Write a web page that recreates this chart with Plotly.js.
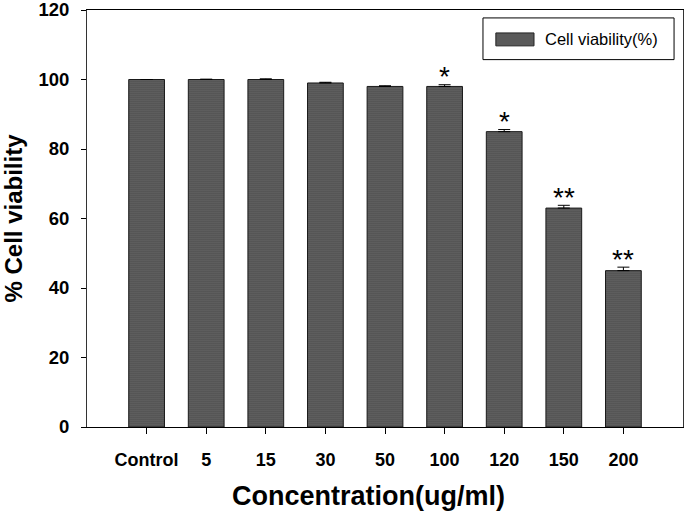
<!DOCTYPE html>
<html>
<head>
<meta charset="utf-8">
<script src="https://cdn.plot.ly/plotly-3.0.1.min.js"></script>
<style>html,body{margin:0;padding:0;background:#fff;}#chart{width:687px;height:516px;}</style>
</head>
<body>
<div id="chart"></div>
<script>
const categories = ["Control", "5", "15", "30", "50", "100", "120", "150", "200"];
const viability = [100, 100, 100, 99, 98, 98, 85, 63, 45];
const errors = [0, 0.1, 0.2, 0.2, 0.2, 0.5, 0.6, 0.8, 1.0];
const significance = ["", "", "", "", "", "*", "*", "**", "**"];
const seriesName = "Cell viability(%)";

const FONT = "Liberation Sans, Arial, sans-serif";

const trace = {
  type: "bar",
  x: categories,
  y: viability,
  name: seriesName,
  width: 0.6,
  marker: {
    color: "#585858",
    line: { color: "#1a1a1a", width: 1 },
    pattern: { shape: ".", fgcolor: "#3a3a3a", bgcolor: "#7a7a7a", size: 2, solidity: 0.6 }
  },
  error_y: {
    type: "data", symmetric: false, array: errors,
    arrayminus: errors.map(() => 0),
    color: "#000", thickness: 1, width: 6
  },
  showlegend: false,
  hoverinfo: "skip"
};

const annotations = [];
categories.forEach((c, i) => {
  if (significance[i]) {
    annotations.push({
      x: i, y: viability[i] + errors[i], xref: "x", yref: "y",
      text: significance[i], showarrow: false,
      yanchor: "middle", yshift: 8,
      font: { family: FONT, size: 28, color: "#000" }
    });
  }
});
// x-axis title (offset slightly left of the plot centre, as in the reference)
annotations.push({
  xref: "paper", yref: "paper", x: 0.472, y: -0.165, yanchor: "middle",
  text: "Concentration(ug/ml)", showarrow: false,
  font: { family: FONT, size: 27, color: "#000", weight: "bold" }
});
// legend text
annotations.push({
  xref: "paper", yref: "paper", x: 0.765, y: 0.930, xanchor: "left", yanchor: "middle",
  text: seriesName, showarrow: false,
  font: { family: FONT, size: 16.5, color: "#000" }
});

const shapes = [
  { type: "rect", xref: "paper", yref: "paper", x0: 0.6644, x1: 0.985, y0: 0.881, y1: 0.981,
    line: { color: "#000", width: 1 }, fillcolor: "#fff" },
  { type: "rect", xref: "paper", yref: "paper", x0: 0.686, x1: 0.750, y0: 0.914, y1: 0.945,
    line: { color: "#222", width: 1 }, fillcolor: "#5a5a5a" }
];

const layout = {
  width: 687, height: 516,
  margin: { l: 87, r: 4, t: 10, b: 89 },
  paper_bgcolor: "#fff", plot_bgcolor: "#fff",
  font: { family: FONT, color: "#000" },
  showlegend: false,
  xaxis: {
    type: "category",
    range: [-1, 9],
    showgrid: false, zeroline: false,
    showline: true, linecolor: "#000", linewidth: 1, mirror: true,
    ticks: "outside", ticklen: 6, tickcolor: "#000",
    tickfont: { family: FONT, size: 18, weight: "bold", color: "#000" },
    ticklabelstandoff: 10
  },
  yaxis: {
    range: [0, 120],
    tickvals: [0, 20, 40, 60, 80, 100, 120],
    showgrid: false, zeroline: false,
    showline: true, linecolor: "#333", linewidth: 1, mirror: true,
    ticks: "outside", ticklen: 5, tickcolor: "#000",
    tickfont: { family: FONT, size: 18.5, weight: "bold", color: "#000" },
    ticklabelstandoff: 8,
    ticklabeloverflow: "allow",
    title: { text: "% Cell viability", font: { family: FONT, size: 24, weight: "bold", color: "#000" }, standoff: 10 }
  },
  annotations: annotations,
  shapes: shapes
};

Plotly.newPlot("chart", [trace], layout, { displayModeBar: false, staticPlot: true });
</script>
</body>
</html>
